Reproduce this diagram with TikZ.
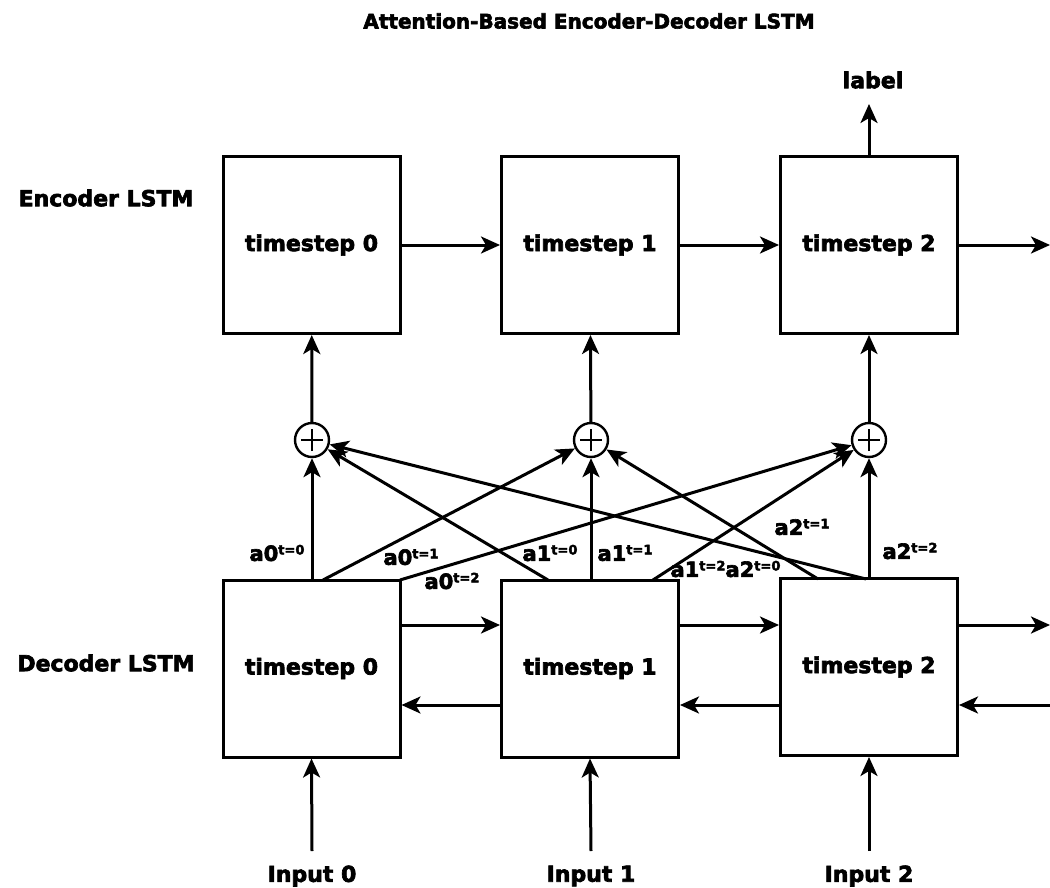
\documentclass[tikz,border=0pt]{standalone}
\usepackage{fontspec}
\setmainfont{DejaVu Sans}[BoldFeatures={FakeBold=3}]
\usetikzlibrary{arrows.meta,calc}
\newcommand\attlab[2]{#1\raisebox{6.5pt}{\fontsize{13}{14}\selectfont #2}}
\begin{document}
\begin{tikzpicture}[x=1pt,y=-1pt,
  every node/.style={font=\bfseries\fontsize{22}{24}\selectfont},
  cell/.style={draw,line width=3pt,minimum width=177pt,minimum height=177pt,inner sep=0pt},
  plus/.style={draw,circle,line width=2.4pt,minimum size=34pt,inner sep=0pt,
    path picture={\draw[line width=2.4pt] ([xshift=-11pt]path picture bounding box.center) -- ([xshift=11pt]path picture bounding box.center);
                  \draw[line width=2.4pt] ([yshift=-11pt]path picture bounding box.center) -- ([yshift=11pt]path picture bounding box.center);}},
  arr/.style={line width=3pt,-{Stealth[length=19pt,width=17pt,inset=5pt]}},
  att/.style={font=\bfseries\fontsize{21}{22}\selectfont,inner sep=0pt}]
\useasboundingbox (0,0) rectangle (1050,888);

\node (title) at (589,21) {\fontsize{20}{22}\selectfont Attention-Based Encoder-Decoder LSTM};
\node (enclab) at (106,198) {Encoder LSTM};
\node (declab) at (106,663) {Decoder LSTM};

% encoder
\node[cell] (e0) at (311.5,245) {timestep 0};
\node[cell] (e1) at (590,245) {timestep 1};
\node[cell] (e2) at (869,245) {timestep 2};
% decoder
\node[cell] (d0) at (311.5,668.5) {timestep 0};
\node[cell] (d1) at (590,668.5) {timestep 1};
\node[cell] (d2) at (869,667) {timestep 2};
% sums
\node[plus] (c0) at (312,440) {};
\node[plus] (c1) at (591,440) {};
\node[plus] (c2) at (869,440) {};

% label
\node (lab) at (873,80) {label};
\coordinate (labtip) at (869,104);
\draw[arr] (e2.north) -- (labtip);

% encoder chain
\coordinate (eout) at (1050,245);
\draw[arr] (e0) -- (e1);
\draw[arr] (e1) -- (e2);
\draw[arr] (e2) -- (eout);

% sums to encoder
\draw[arr] (c0) -- (e0);
\draw[arr] (c1) -- (e1);
\draw[arr] (c2) -- (e2);

% decoder chains
\coordinate (dfo) at (1050,625);
\coordinate (dbi) at (1050,705);
\draw[arr] (d0.east |- 0,625) -- (d1.west |- 0,625);
\draw[arr] (d1.east |- 0,625) -- (d2.west |- 0,625);
\draw[arr] (d2.east |- 0,625) -- (dfo);
\draw[arr] (d1.west |- 0,705) -- (d0.east |- 0,705);
\draw[arr] (d2.west |- 0,705) -- (d1.east |- 0,705);
\draw[arr] (dbi) -- (d2.east |- 0,705);

% inputs
\node (i0) at (312,876) {Input 0};
\node (i1) at (591,876) {Input 1};
\node (i2) at (869,876) {Input 2};
\coordinate (i0s) at (312,851);
\coordinate (i1s) at (591,851);
\coordinate (i2s) at (869,851);
\draw[arr] (i0s) -- (d0.south);
\draw[arr] (i1s) -- (d1.south);
\draw[arr] (i2s) -- (d2.south);

% attention sources on decoder tops
\coordinate (s00) at (312,580);
\coordinate (s01) at (323,580);
\coordinate (s02) at (400,580);
\coordinate (s10) at (548,580);
\coordinate (s11) at (591,580);
\coordinate (s12) at (653,580);
\coordinate (s20) at (866,579);
\coordinate (s21) at (818,579);
\coordinate (s22) at (869,579);
\draw[arr] (s00) -- (c0);
\draw[arr] (s01) -- (c1);
\draw[arr] (s02) -- (c2);
\draw[arr] (s10) -- (c0);
\draw[arr] (s11) -- (c1);
\draw[arr] (s12) -- (c2);
\draw[arr] (s20) -- (c0);
\draw[arr] (s21) -- (c1);
\draw[arr] (s22) -- (c2);

% attention labels
\node[att] (l00) at (277,553) {\attlab{a0}{t=0}};
\node[att] (l01) at (411,557) {\attlab{a0}{t=1}};
\node[att] (l02) at (452,581) {\attlab{a0}{t=2}};
\node[att] (l10) at (550,553) {\attlab{a1}{t=0}};
\node[att] (l11) at (625,553) {\attlab{a1}{t=1}};
\node[att] (l12) at (698,569) {\attlab{a1}{t=2}};
\node[att] (l20) at (753,569) {\attlab{a2}{t=0}};
\node[att] (l21) at (802,527) {\attlab{a2}{t=1}};
\node[att] (l22) at (910,551) {\attlab{a2}{t=2}};
\end{tikzpicture}
\end{document}
